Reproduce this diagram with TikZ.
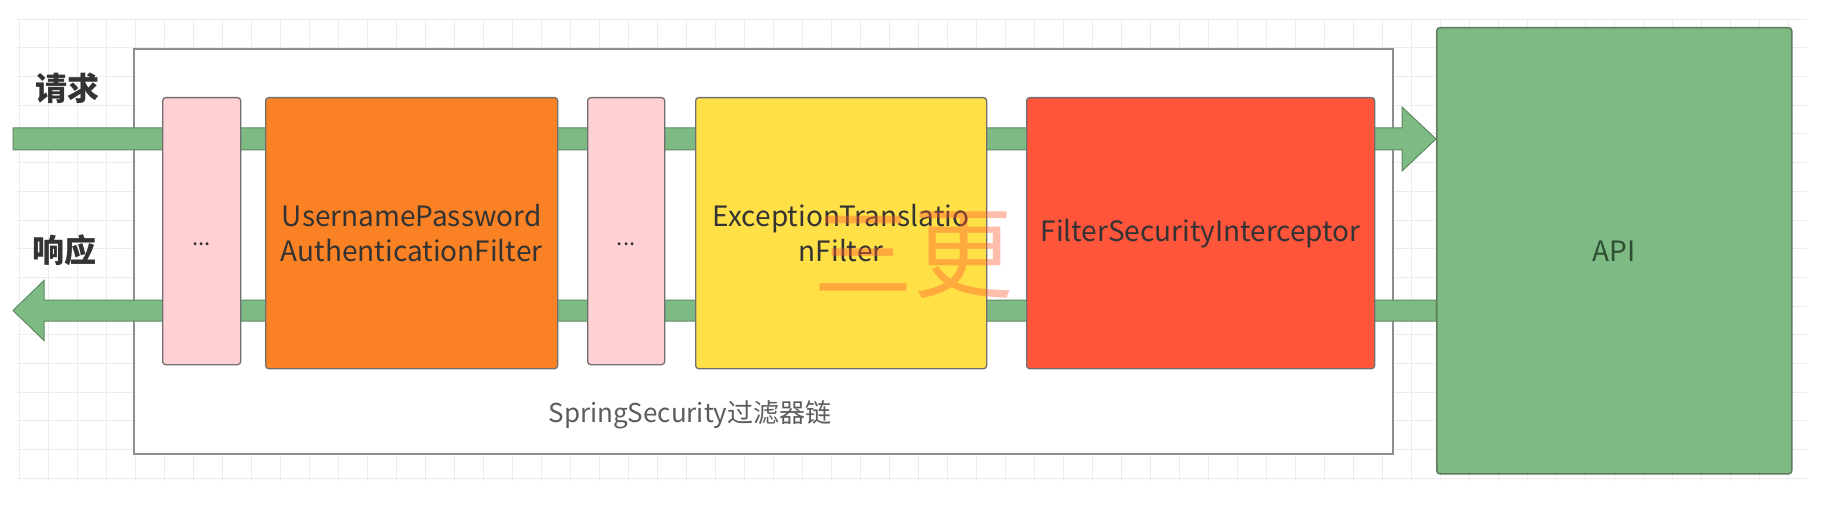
\documentclass[tikz,border=0pt]{standalone}
\usepackage{fontspec}
\setmainfont{Noto Sans CJK SC}
\usetikzlibrary{calc}
\definecolor{gridc}{HTML}{ECECEC}
\definecolor{outerc}{HTML}{8E8E8E}
\definecolor{flowf}{HTML}{7EBB84}
\definecolor{flowd}{HTML}{5E8A62}
\definecolor{apif}{HTML}{7EBA84}
\definecolor{apid}{HTML}{5C7A5E}
\definecolor{pinkf}{HTML}{FFD0D4}
\definecolor{orangef}{HTML}{FA8224}
\definecolor{yellowf}{HTML}{FFE047}
\definecolor{redf}{HTML}{FF553B}
\definecolor{edgec}{HTML}{707070}
\definecolor{txt}{HTML}{333333}
\definecolor{apitxt}{HTML}{2F4F33}
\definecolor{wmark}{HTML}{FF5A30}
\begin{document}
\begin{tikzpicture}[x=1pt,y=1pt,
  fbox/.style={rectangle, rounded corners=3pt, draw=edgec, line width=1.3pt,
    inner sep=0pt, anchor=north west, align=center, text=txt,
    font=\fontsize{28}{35}\selectfont},
  flow/.style={fill=flowf, draw=flowd, line width=1pt, line join=miter},
  dots/.style={font=\fontsize{22}{24}\selectfont, text=txt, anchor=base},
  sidelabel/.style={font=\fontsize{32}{36}\selectfont\bfseries, text=txt, inner sep=0pt}]
\useasboundingbox (0,0) rectangle (1824,-508);
% background grid
\foreach \gx in {19,48,...,1807} \draw[gridc, line width=0.8pt] (\gx,-19) -- (\gx,-481);
\foreach \gy in {19,47.7,...,481} \draw[gridc, line width=0.8pt] (17,-\gy) -- (1807,-\gy);
% outer chain box
\node[draw=outerc, fill=white, line width=2pt, minimum width=1259pt, minimum height=405pt,
  inner sep=0pt, anchor=north west] (chain) at (133,-48) {};
\node[font=\fontsize{26}{30}\selectfont, text=txt!80!white] (chainlbl) at (690,-415) {SpringSecurity过滤器链};
% API box
\node[rectangle, rounded corners=3pt, fill=apif, draw=apid, line width=1.5pt, inner sep=0pt,
  anchor=north west, minimum width=355pt, minimum height=446pt, text=apitxt,
  font=\fontsize{28}{34}\selectfont] (api) at (1436,-27) {API};
% request flow
\coordinate (reqin) at (13,-139);
\coordinate (reqtip) at (api.west |- reqin);
\draw[flow] ($(reqin)+(0,11)$) -- ($(reqtip)+(-34,11)$) -- ($(reqtip)+(-34,32)$) -- (reqtip)
  -- ($(reqtip)+(-34,-32)$) -- ($(reqtip)+(-34,-11)$) -- ($(reqin)+(0,-11)$) -- cycle;
% response flow
\coordinate (respout) at (13,-310.5);
\coordinate (respin) at (api.west |- respout);
\draw[flow] ($(respin)+(0,10.5)$) -- ($(respout)+(31,10.5)$) -- ($(respout)+(31,30)$) -- (respout)
  -- ($(respout)+(31,-30)$) -- ($(respout)+(31,-10.5)$) -- ($(respin)+(0,-10.5)$) -- cycle;
% filters
\node[fbox, fill=pinkf, minimum width=78pt, minimum height=267pt] (p1) at (162,-97) {};
\node[fbox, fill=orangef, minimum width=292pt, minimum height=271pt] (upf) at (265,-97)
  {UsernamePassword\\AuthenticationFilter};
\node[fbox, fill=pinkf, minimum width=77pt, minimum height=267pt] (p2) at (587,-97) {};
\node[fbox, fill=yellowf, minimum width=291pt, minimum height=271pt] (etf) at (695,-97)
  {ExceptionTranslatio\\nFilter};
\node[fbox, fill=redf, minimum width=348pt, minimum height=271pt] (fsi) at (1026,-97)
  {FilterSecurityInterceptor};
\node[dots] (d1) at (p1.center |- 0,-245) {...};
\node[dots] (d2) at (p2.center |- 0,-245) {...};
% side labels
\node[sidelabel] (req) at (67,-88) {请求};
\node[sidelabel] (resp) at (64,-250) {响应};
% watermark
\node[font=\fontsize{100}{100}\selectfont, text=wmark, text opacity=0.4, inner sep=0pt] (wm) at (913,-255) {三更};
\end{tikzpicture}
\end{document}
